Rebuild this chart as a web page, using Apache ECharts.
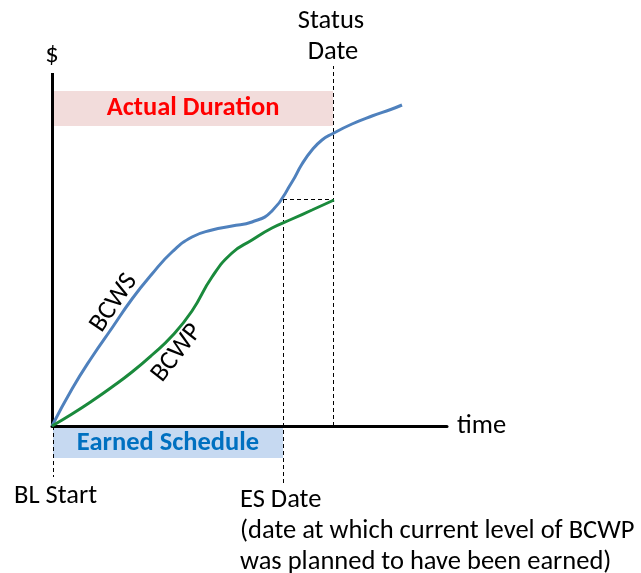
<!DOCTYPE html>
<html><head><meta charset="utf-8">
<script src="https://cdn.jsdelivr.net/npm/echarts@6/dist/echarts.min.js"></script>
<style>html,body{margin:0;padding:0;background:#fff}#c{width:641px;height:573px}</style>
</head><body><div id="c"></div>
<script>
// time (arbitrary units) and cumulative $ (arbitrary units)
const bcwsTime  = [0, 20, 40, 60, 80, 100, 120, 140, 160, 180, 200, 220, 240, 250, 260, 270, 280, 300, 320, 340, 350];
const bcwsValue = [0, 37, 69, 98, 127, 152, 174, 189, 196, 200, 204, 215, 244, 262, 276, 286, 292, 302, 310, 317, 321];
const bcwpTime  = [0, 20, 40, 60, 80, 100, 120, 140, 160, 180, 200, 220, 240, 260, 282];
const bcwpValue = [0, 12, 25, 39, 54, 71, 90, 115, 149, 173, 186, 198, 207, 216, 226];
const statusDate = 281, esDate = 231, blStart = 1;
const bcwpAtStatus = 227;
const yAxisTop = 353;
const FONT = 'Carlito, Lato, "Open Sans", sans-serif';
const FS = 26.5;

const zip = (a, b) => a.map((v, i) => [v, b[i]]);
const chart = echarts.init(document.getElementById('c'), null, {renderer: 'canvas'});
const dash = {color: '#000', width: 1, type: [4, 3]};
chart.setOption({
  animation: false,
  grid: {left: 52, right: 194, top: 66, bottom: 87},
  xAxis: {type: 'value', min: 0, max: 395,
    axisLine: {onZero: true, lineStyle: {color: '#000', width: 3}},
    axisTick: {show: false}, axisLabel: {show: false}, splitLine: {show: false},
    name: 'time', nameLocation: 'end', nameGap: 10,
    nameTextStyle: {fontFamily: FONT, fontSize: FS, color: '#000', verticalAlign: 'middle'}},
  yAxis: {type: 'value', min: -60, max: 360,
    axisLine: {show: false}, axisTick: {show: false}, axisLabel: {show: false}, splitLine: {show: false}},
  series: [
    {type: 'line', name: 'BCWS', data: zip(bcwsTime, bcwsValue), smooth: 0.5, symbol: 'none',
      lineStyle: {color: '#4f81bd', width: 3}, z: 5},
    {type: 'line', name: 'BCWP', data: zip(bcwpTime, bcwpValue), smooth: 0.5, symbol: 'none',
      lineStyle: {color: '#1a8a3c', width: 3}, z: 5},
    {type: 'line', data: [], clip: false, z: 2,
      markArea: {silent: true, data: [
        [{coord: [blStart, 300], itemStyle: {color: '#f2dcdb'},
          label: {show: true, position: 'inside', formatter: 'Actual Duration', color: '#ff0000',
            fontFamily: FONT, fontWeight: 'bold', fontSize: FS}},
         {coord: [statusDate, 335]}],
        [{coord: [blStart, -2], itemStyle: {color: '#c6d9f1'},
          label: {show: true, position: 'inside', formatter: 'Earned Schedule', color: '#0070c0',
            fontFamily: FONT, fontWeight: 'bold', fontSize: FS}},
         {coord: [esDate, -32]}]
      ]},
      markLine: {silent: true, symbol: ['none', 'none'], label: {show: false}, data: [
        [{coord: [0, 0], lineStyle: {color: '#000', width: 3, type: 'solid'},
          label: {show: true, position: 'end', formatter: '$', fontFamily: FONT, fontSize: FS, color: '#000', distance: 4}},
         {coord: [0, yAxisTop]}],
        [{coord: [statusDate, 0], lineStyle: dash}, {coord: [statusDate, 360]}],
        [{coord: [esDate, bcwpAtStatus], lineStyle: dash}, {coord: [esDate, -59]}],
        [{coord: [esDate, bcwpAtStatus], lineStyle: dash}, {coord: [statusDate, bcwpAtStatus]}],
        [{coord: [blStart, 0], lineStyle: dash}, {coord: [blStart, -51]}]
      ]}}
  ]
});

const px = (t, v) => chart.convertToPixel({gridIndex: 0}, [t, v]);
const txt = (x, y, s, opt) => Object.assign({type: 'text', x, y, silent: true,
  style: Object.assign({text: s, fontFamily: FONT, fontSize: FS, fill: '#000', textAlign: 'left', textVerticalAlign: 'middle'}, opt || {})});
const sd = px(statusDate, 360);
chart.setOption({graphic: [
  txt(sd[0] - 2, 21, 'Status', {textAlign: 'center'}),
  txt(sd[0], 52, 'Date', {textAlign: 'center'}),
  txt(14, 496, 'BL Start'),
  txt(240, 500, 'ES Date'),
  txt(240, 531, '(date at which current level of BCWP'),
  txt(240, 562, 'was planned to have been earned)'),
  Object.assign(txt(114, 303, 'BCWS', {textAlign: 'center'}), {rotation: 56 * Math.PI / 180}),
  Object.assign(txt(177, 353, 'BCWP', {textAlign: 'center'}), {rotation: 52 * Math.PI / 180})
]});
</script></body></html>
